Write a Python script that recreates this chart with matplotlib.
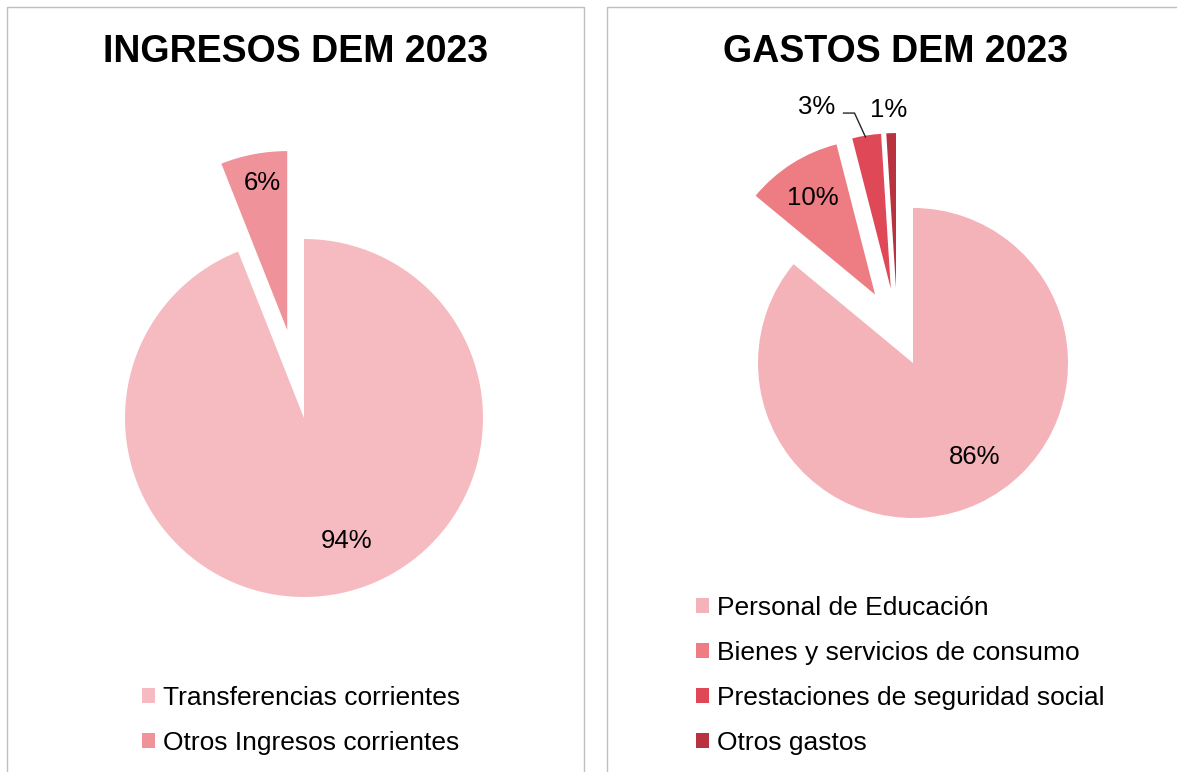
import matplotlib
matplotlib.use("Agg")
import matplotlib.pyplot as plt
from matplotlib.patches import Rectangle
from matplotlib.lines import Line2D

plt.rcParams['font.family'] = ['Liberation Sans', 'DejaVu Sans']

W, H = 1177, 772

# Datos
ingresos_labels = ['Transferencias corrientes', 'Otros Ingresos corrientes']
ingresos_vals = [94, 6]
ingresos_colors = ['#F5BBC0', '#F0929A']

gastos_labels = ['Personal de Educación', 'Bienes y servicios de consumo',
                 'Prestaciones de seguridad social', 'Otros gastos']
gastos_vals = [86, 10, 3, 1]
gastos_colors = ['#F4B3B8', '#EE7C83', '#DF4857', '#B8323F']


def fx(x):
    return x / W


def fy(y):
    return 1 - y / H


def pie_axes(fig, cx, cy, r):
    """Axes where one data unit = r pixels, pie center at pixel (cx, cy)"""
    ax = fig.add_axes([fx(cx - 2 * r), fy(cy + 2 * r), 4 * r / W, 4 * r / H])
    return ax


def finish(ax):
    ax.set_xlim(-2, 2)
    ax.set_ylim(-2, 2)
    ax.set_axis_off()


fig = plt.figure(figsize=(W / 100, H / 100), dpi=100)

# Marcos de los paneles
for x0, x1 in [(7, 584), (607, 1190)]:
    fig.add_artist(Rectangle((fx(x0), fy(790)), fx(x1 - x0), (790 - 7) / H,
                             transform=fig.transFigure, fill=False,
                             edgecolor='#BFBFBF', linewidth=1))

# Titulos
fig.text(fx(296), fy(62), 'INGRESOS DEM 2023', ha='center', va='baseline',
         fontsize=27, fontweight='bold')
fig.text(fx(896), fy(62), 'GASTOS DEM 2023', ha='center', va='baseline',
         fontsize=27, fontweight='bold')

# Pie ingresos
ax1 = pie_axes(fig, 304, 418, 179)
w1, _, t1 = ax1.pie(ingresos_vals, colors=ingresos_colors, startangle=90,
                    counterclock=False, explode=[0, 0.5],
                    autopct='%1.0f%%', textprops={'fontsize': 18.5})
for t, pos in zip(t1, [(0.24, -0.687), (-0.235, 1.313)]):
    t.set_position(pos)
finish(ax1)

# Pie gastos
ax2 = pie_axes(fig, 897.3, 329.6, 155)
w2, _, t2 = ax2.pie(gastos_vals, colors=gastos_colors, startangle=90,
                    counterclock=False, explode=[0.238, 0.268, 0.268, 0.268],
                    autopct='%1.0f%%', textprops={'fontsize': 18.5})
for t, pos in zip(t2, [(0.497, -0.822), (-0.544, 0.849),
                       (-0.52, 1.436), (-0.054, 1.416)]):
    t.set_position(pos)
ax2.add_line(Line2D([-0.347, -0.276, -0.205], [1.397, 1.397, 1.242],
                    color='#262626', linewidth=1))
finish(ax2)

# Leyendas
leg_kw = dict(frameon=False, fontsize=19, handlelength=0.5, handleheight=0.5,
              handletextpad=0.3, labelspacing=0.8, borderpad=0,
              borderaxespad=0, loc='upper left')
fig.legend(w1, ingresos_labels, bbox_to_anchor=(fx(142), fy(686)), **leg_kw)
fig.legend(w2, gastos_labels, bbox_to_anchor=(fx(696), fy(596)), **leg_kw)

fig.savefig('out.png', dpi=100)
